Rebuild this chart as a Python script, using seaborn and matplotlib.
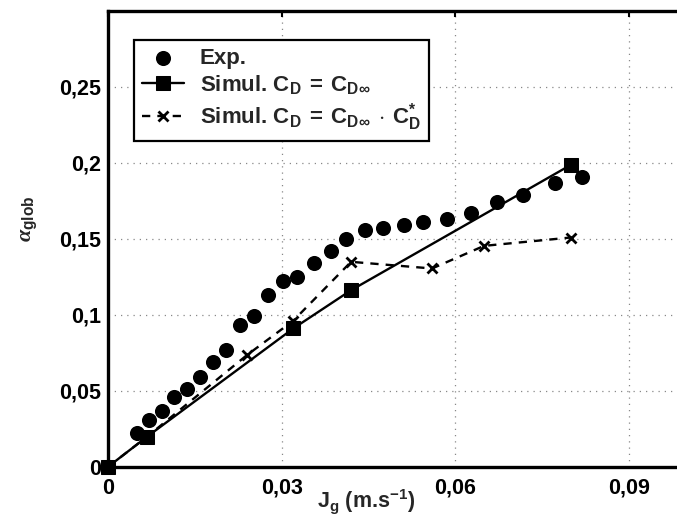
import matplotlib
matplotlib.use("Agg")
import matplotlib.pyplot as plt
import seaborn as sns

# experimental void fraction vs superficial gas velocity
exp_jg = [0.0049, 0.0071, 0.0093, 0.0114, 0.0137, 0.0159, 0.0182, 0.0204,
          0.0228, 0.0252, 0.0277, 0.0303, 0.0326, 0.0356, 0.0385, 0.0412,
          0.0444, 0.0476, 0.0512, 0.0545, 0.0586, 0.0628, 0.0673, 0.0717,
          0.0772, 0.0819]
exp_alpha = [0.022, 0.031, 0.037, 0.046, 0.051, 0.059, 0.069, 0.077,
             0.093, 0.099, 0.113, 0.122, 0.125, 0.134, 0.142, 0.150,
             0.156, 0.157, 0.159, 0.161, 0.163, 0.167, 0.174, 0.179,
             0.187, 0.191]

# simulation, C_D = C_D_inf
sim1_jg = [0.0, 0.0067, 0.032, 0.042, 0.080]
sim1_alpha = [0.0, 0.0197, 0.091, 0.1162, 0.1987]

# simulation, C_D = C_D_inf * C_D*
sim2_jg = [0.0, 0.0067, 0.024, 0.032, 0.042, 0.056, 0.065, 0.080]
sim2_alpha = [0.0, 0.0197, 0.0735, 0.0961, 0.1349, 0.1305, 0.1454, 0.1509]

xticks = [0, 0.03, 0.06, 0.09]
xtick_labels = ["0", "0,03", "0,06", "0,09"]
yticks = [0, 0.05, 0.1, 0.15, 0.2, 0.25]
ytick_labels = ["0", "0,05", "0,1", "0,15", "0,2", "0,25"]

labels = [
    "Exp.",
    r"Simul. $C_D\;=\;C_{D\infty}$",
    r"Simul. $C_D\;=\;C_{D\infty}\;\cdot\;C_D^{*}$",
]

sns.set_theme(style="white")
plt.rcParams.update({
    "font.family": ["Liberation Sans", "DejaVu Sans"],
    "font.weight": "bold",
    "axes.labelweight": "bold",
    "mathtext.fontset": "custom",
    "mathtext.rm": "Liberation Sans:bold",
    "mathtext.bf": "Liberation Sans:bold",
    "mathtext.it": "Liberation Serif:italic",
    "mathtext.default": "bf",
})

fig = plt.figure(figsize=(6.77, 5.18), dpi=100)
ax = fig.add_axes([0.1598, 0.0990, 0.8542, 0.8797])

sns.scatterplot(x=exp_jg, y=exp_alpha, ax=ax, color="black", marker="o",
                s=118, linewidth=0, label=labels[0], zorder=4, clip_on=False)
sns.lineplot(x=sim1_jg, y=sim1_alpha, ax=ax, color="black", linewidth=1.7,
             marker="s", markersize=9.5, markeredgecolor="black",
             estimator=None, sort=False, label=labels[1], zorder=3,
             clip_on=False)
sns.lineplot(x=sim2_jg, y=sim2_alpha, ax=ax, color="black", linewidth=1.7,
             linestyle=(0, (3.5, 3)), marker="x", markersize=7,
             markeredgewidth=2, markeredgecolor="black",
             estimator=None, sort=False, label=labels[2], zorder=3,
             clip_on=False)

ax.set_xlim(0, 0.1)
ax.set_ylim(0, 0.3)
ax.set_xticks(xticks)
ax.set_xticklabels(xtick_labels)
ax.set_yticks(yticks)
ax.set_yticklabels(ytick_labels)
ax.tick_params(direction="in", length=4, width=1.5, top=True, right=True,
               labelsize=15.5, colors="black")
ax.tick_params(axis="x", pad=8)
ax.tick_params(axis="y", pad=5)

ax.grid(True, linestyle=(0, (1, 4)), color="#888888", linewidth=0.9)
ax.set_axisbelow(True)
for sp in ax.spines.values():
    sp.set_visible(True)
    sp.set_color("black")
    sp.set_linewidth(2.4)

ax.set_xlabel(r"$J_g$ (m.s$^{-1}$)", fontsize=15.5)
ax.xaxis.set_label_coords(0.446, -0.045)
ax.set_ylabel(r"$\mathit{\alpha}_{glob}$", fontsize=16)
ax.yaxis.set_label_coords(-0.118, 0.544)

leg = ax.legend(loc="upper left", bbox_to_anchor=(0.0446, 0.9364),
                borderaxespad=0, frameon=True, fancybox=False,
                edgecolor="black", framealpha=1, fontsize=16,
                handlelength=1.9, handletextpad=0.7, borderpad=0.35,
                labelspacing=0.2)
leg.get_frame().set_linewidth(1.6)

fig.savefig("out.png", dpi=100)
